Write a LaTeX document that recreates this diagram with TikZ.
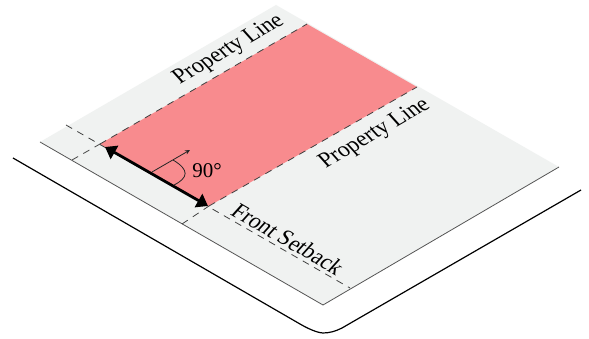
\documentclass[tikz,border=0pt]{standalone}
\usepackage{fontspec}
\setmainfont{Liberation Serif}
\usetikzlibrary{arrows.meta}
\definecolor{lotgrey}{HTML}{F0F2F1}
\definecolor{setpink}{HTML}{F88B8E}
\definecolor{edgegrey}{HTML}{555555}
\tikzset{
  lotedge/.style={draw=edgegrey,line width=0.8pt},
  setdash/.style={draw=black!75,line width=0.8pt,dash pattern=on 7pt off 6pt},
  outerline/.style={draw=black,line width=1.2pt,line join=round},
  lbl/.style={font=\fontsize{22}{25}\selectfont,inner sep=0pt,text=black},
  planeup/.style={lbl,transform shape,cm={0.866,0.5,-0.72,0.8,(0,0)}},
  planedown/.style={lbl,transform shape,cm={0.866,-0.5,0.72,0.8,(0,0)}},
  bigarrow/.style={draw=black,line width=2.8pt,{Triangle[length=11pt,width=15pt]}-{Triangle[length=11pt,width=15pt]}},
  thinarrow/.style={draw=black!85,line width=0.8pt,-{Stealth[length=5pt,width=4.5pt]}}
}
\begin{document}
\begin{tikzpicture}[x=1pt,y=-1pt]
\useasboundingbox (0,0) rectangle (589,339);
\fill[white] (0,0) rectangle (589,339);
\coordinate (L) at (40,142);
\coordinate (T) at (276,5);
\coordinate (R) at (559,167);
\coordinate (B) at (323,305);
\coordinate (pl) at (100,144);
\coordinate (pt) at (307,24);
\coordinate (pr) at (417,87);
\coordinate (pb) at (209,206);
% lot
\fill[lotgrey] (L) -- (T) -- (R) -- (B) -- cycle;
\draw[lotedge] (R) -- (B) -- (L);
% setback zone
\fill[setpink] (pl) -- (pt) -- (pr) -- (pb) -- cycle;
\draw[setdash] (pl) -- (pt);
\draw[setdash] (pb) -- (pr);
\draw[setdash] (66,125) -- (350,288);
\draw[setdash] (72,160) -- (pl);
\draw[setdash] (182,224) -- (pb);
% outer curb
\draw[outerline] (13,158) -- (300,324) .. controls (312,331) and (320,333) .. (323,333) .. controls (330,333) and (336,331) .. (342,328) -- (581,190);
% arrows
\draw[bigarrow] (105,147) -- (208,206);
\draw[thinarrow] (152,172) -- (190,150);
\draw[draw=black!85,line width=0.8pt] (173,160) .. controls (190,170) and (188,178) .. (174,185);
% labels
\node[lbl,font=\fontsize{21}{24}\selectfont] (n90) at (207,171) {90°};
\begin{scope}[shift={(229,50)}]
\node[planeup] (pl1) at (0,0) {Property Line};
\end{scope}
\begin{scope}[shift={(375,134)}]
\node[planeup] (pl2) at (0,0) {Property Line};
\end{scope}
\begin{scope}[shift={(288,239)}]
\node[planedown] (fs) at (0,0) {Front Setback};
\end{scope}
\end{tikzpicture}
\end{document}
